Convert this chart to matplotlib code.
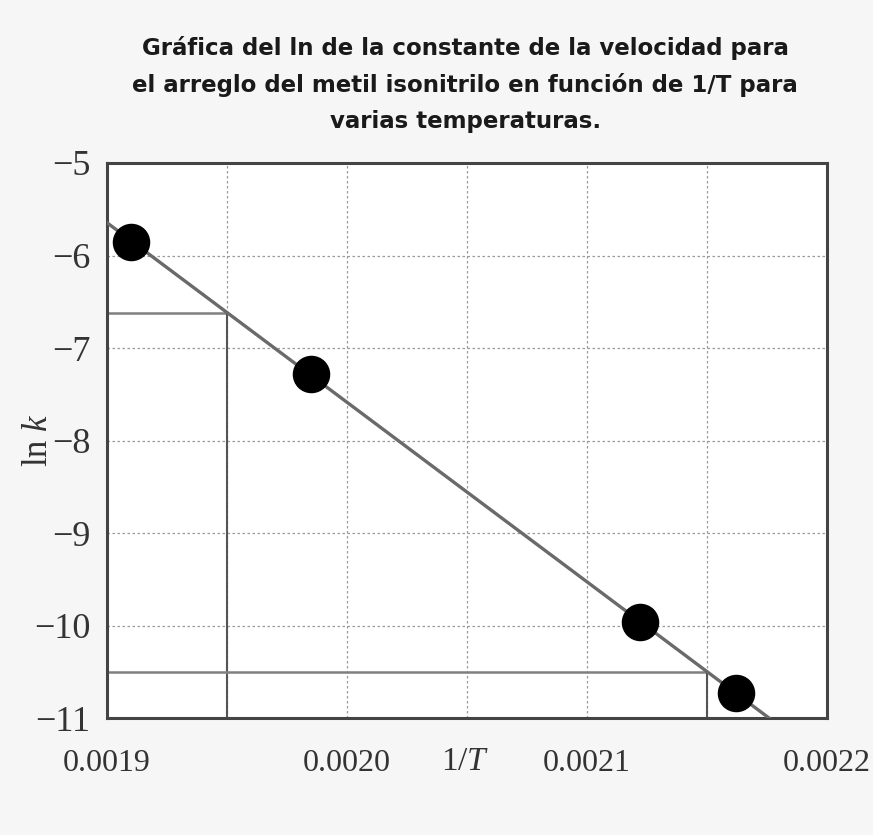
import numpy as np
import matplotlib
matplotlib.use("Agg")
import matplotlib.pyplot as plt
from matplotlib.ticker import MultipleLocator, FixedLocator

plt.rcParams["mathtext.fontset"] = "custom"
plt.rcParams["mathtext.rm"] = "Liberation Serif"
plt.rcParams["mathtext.it"] = "Liberation Serif:italic"

# data
inv_T = [0.00191, 0.001985, 0.002122, 0.002162]
ln_k = [-5.85, -7.28, -9.96, -10.73]
x_ticks = [0.0019, 0.0020, 0.0021, 0.0022]
x_labels = ["0.0019", "0.0020", "0.0021", "0.0022"]
y_ticks = [-5, -6, -7, -8, -9, -10, -11]
drop_x = [0.00195, 0.00215]   # reading points used for the slope

title = ("Gráfica del ln de la constante de la velocidad para\n"
         "el arreglo del metil isonitrilo en función de 1/T para\n"
         "varias temperaturas.")

slope, intercept = np.polyfit(inv_T, ln_k, 1)

fig = plt.figure(figsize=(8.73, 8.35), dpi=100, facecolor="#f6f6f6")
ax = fig.add_axes([0.1226, 0.140, 0.8247, 0.6648])
ax.set_facecolor("white")

ax.set_xlim(0.0019, 0.0022)
ax.set_ylim(-11, -5)

# grid
ax.xaxis.set_major_locator(FixedLocator(x_ticks))
ax.xaxis.set_minor_locator(MultipleLocator(0.00005))
ax.yaxis.set_major_locator(FixedLocator(y_ticks))
ax.grid(True, which="both", axis="x", color="#9a9a9a", lw=0.9, ls=(0, (2, 2)))
ax.grid(True, which="major", axis="y", color="#9a9a9a", lw=0.9, ls=(0, (2, 2)))
ax.set_axisbelow(True)

# construction lines from the fitted line to the axes
for xd in drop_x:
    yd = slope * xd + intercept
    ax.plot([0.0019, xd], [yd, yd], color="#808080", lw=1.8, zorder=2)
    ax.plot([xd, xd], [-11, yd], color="#555555", lw=1.5, zorder=2)

xs = np.array([0.0019, 0.0022])
ax.plot(xs, slope * xs + intercept, color="#6a6a6a", lw=2.4, zorder=3)
ax.plot(inv_T, ln_k, "o", color="black", ms=26, zorder=4)

serif = ["Liberation Serif", "DejaVu Serif"]
ax.set_xticks(x_ticks)
ax.set_xticklabels(x_labels, family=serif, fontsize=23, color="#333333")
ax.set_yticks(y_ticks)
ax.set_yticklabels(["\u2212%d" % abs(v) for v in y_ticks], family=serif,
                   fontsize=26, color="#333333")
ax.tick_params(which="both", length=0)
ax.tick_params(axis="x", pad=22)
ax.tick_params(axis="y", pad=12)

for s in ax.spines.values():
    s.set_color("#444444")
    s.set_linewidth(2.2)

ax.set_xlabel("1/$\\mathit{T}$", family=serif, fontsize=24, color="#333333")
ax.xaxis.set_label_coords(0.497, -0.052)
ax.set_ylabel("ln $\\mathit{k}$", family=serif, fontsize=25, color="#333333")
ax.yaxis.set_label_coords(-0.072, 0.5)

fig.text(0.533, 0.957, title, ha="center", va="top", fontsize=16.5,
         fontweight="bold", family="DejaVu Sans", linespacing=1.7,
         color="#1a1a1a")

fig.savefig("out.png", dpi=100, facecolor=fig.get_facecolor())
